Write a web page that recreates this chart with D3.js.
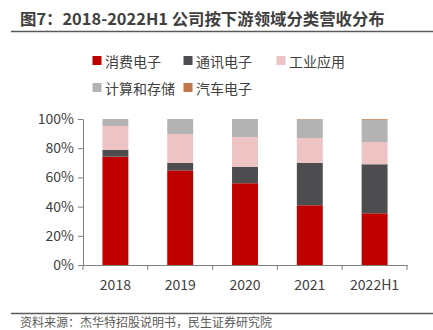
<!DOCTYPE html>
<html><head><meta charset="utf-8">
<script src="https://cdn.jsdelivr.net/npm/d3@7/dist/d3.min.js"></script>
<style>body{margin:0;background:#fff}svg{display:block}</style>
</head><body>
<script>
const categories = ["2018","2019","2020","2021","2022H1"];
const seriesNames = ["消费电子","通讯电子","工业应用","计算和存储","汽车电子"];
const consumer = [74.2, 64.8, 56.0, 40.9, 35.4];
const comm     = [4.6, 5.2, 11.3, 29.1, 33.6];
const industry = [16.4, 19.7, 20.4, 17.0, 15.2];
const computing= [4.8, 10.3, 12.3, 12.7, 15.3];
const auto     = [0.0, 0.0, 0.0, 0.3, 0.5];
const yTicks = [0, 20, 40, 60, 80, 100];
const colors = ["#C00000","#4D4D4F","#EDC3C3","#B3B3B3","#C0784A"];

const W = 433, H = 330;
const svg = d3.select("body").append("svg").attr("width", W).attr("height", H);
const font = "'Noto Sans CJK SC','Noto Sans',sans-serif";

svg.append("text").attr("x", 20).attr("y", 25).attr("font-family", font)
  .attr("font-size", 16.4).attr("font-weight", "bold").attr("fill", "#404040")
  .text("图7：2018-2022H1 公司按下游领域分类营收分布");
svg.append("line").attr("x1", 11).attr("x2", 433).attr("y1", 31.5).attr("y2", 31.5)
  .attr("stroke", "#595959").attr("stroke-width", 1.3);

const data = categories.map((c, i) => ({cat: c, s0: consumer[i], s1: comm[i], s2: industry[i], s3: computing[i], s4: auto[i]}));
const stack = d3.stack().keys(["s0","s1","s2","s3","s4"])(data);

const x = d3.scaleBand().domain(categories).range([83, 407]).paddingInner(0.6).paddingOuter(0.3);
const y = d3.scaleLinear().domain([0, 100]).range([265, 119]);

stack.forEach((layer, li) => {
  svg.append("g").selectAll("rect").data(layer).join("rect")
    .attr("x", d => x(d.data.cat)).attr("width", x.bandwidth())
    .attr("y", d => y(d[1])).attr("height", d => y(d[0]) - y(d[1]))
    .attr("fill", colors[li]);
});

const yAxis = svg.append("g").attr("transform", "translate(83,0)")
  .call(d3.axisLeft(y).tickValues(yTicks).tickFormat(d => d + "%").tickSize(5).tickSizeOuter(0));
yAxis.select(".domain").attr("stroke", "#7f7f7f");
yAxis.selectAll(".tick line").attr("stroke", "#7f7f7f");
yAxis.selectAll("text").attr("font-family", font).attr("font-size", 14).attr("fill", "#404040").attr("x", -9);

const xOuter = d3.scaleBand().domain(categories).range([83, 407]);
const xAxis = svg.append("g").attr("transform", "translate(0,265)")
  .call(d3.axisBottom(xOuter).tickSize(0).tickSizeOuter(0));
xAxis.select(".domain").attr("stroke", "#7f7f7f");
xAxis.selectAll("text").attr("font-family", font).attr("font-size", 14).attr("fill", "#404040").attr("dy", "1.55em");
const tickPos = categories.map(c => xOuter(c)).concat([407]);
svg.append("g").selectAll("line").data(tickPos).join("line")
  .attr("x1", d => d).attr("x2", d => d).attr("y1", 265).attr("y2", 270)
  .attr("stroke", "#7f7f7f");

const legendPos = [[93,61],[184,61],[277,61],[93,88],[184,88]];
seriesNames.forEach((n, i) => {
  const [lx, ly] = legendPos[i];
  svg.append("rect").attr("x", lx - 0.5).attr("y", ly - 5).attr("width", 9).attr("height", 9).attr("fill", colors[i]);
  svg.append("text").attr("x", lx + 12).attr("y", ly + 5.5).attr("font-family", font)
    .attr("font-size", 14).attr("fill", "#404040").text(n);
});

svg.append("line").attr("x1", 11).attr("x2", 433).attr("y1", 313.5).attr("y2", 313.5)
  .attr("stroke", "#595959").attr("stroke-width", 1.3);
svg.append("text").attr("x", 20).attr("y", 326.5).attr("font-family", font)
  .attr("font-size", 12).attr("fill", "#595959").text("资料来源：杰华特招股说明书，民生证券研究院");
</script>
</body></html>
